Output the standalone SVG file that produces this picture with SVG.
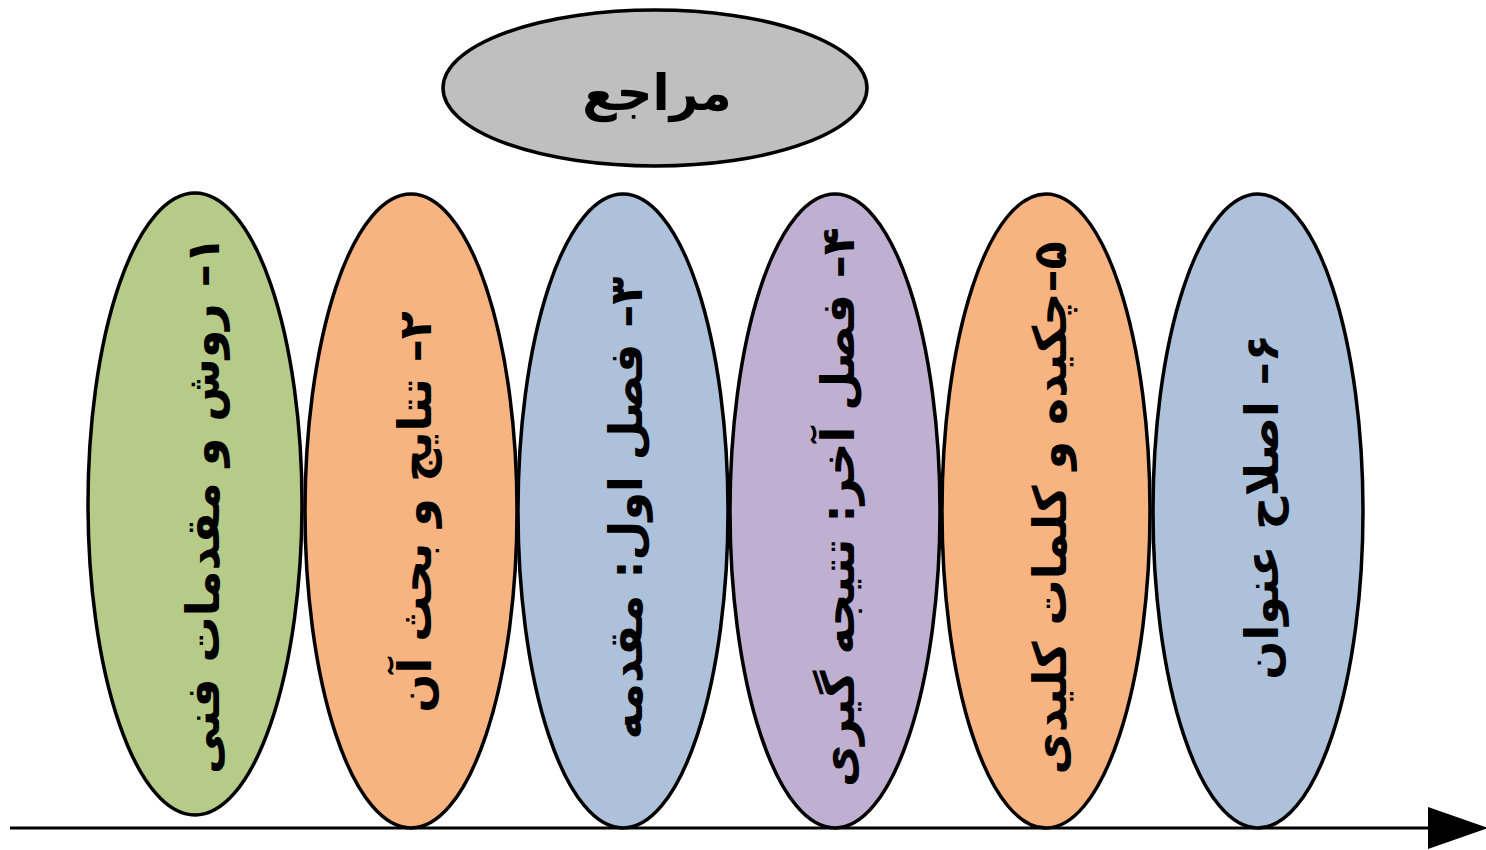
<svg xmlns="http://www.w3.org/2000/svg" width="1486" height="850" viewBox="0 0 1486 850">
<style>
.e{stroke:#000;stroke-width:3.5}
.lbl{font-family:"DejaVu Sans",sans-serif;font-size:46px;font-weight:bold;fill:#000;text-anchor:middle;dominant-baseline:central;direction:rtl;unicode-bidi:embed}
</style>
<defs>
<marker id="ah" viewBox="0 0 20 14" refX="0" refY="7" markerWidth="20" markerHeight="14" markerUnits="strokeWidth" orient="auto">
<path d="M0,0 L20,7 L0,14 Z" fill="#000"/>
</marker>
</defs>
<rect width="1486" height="850" fill="#fff"/>
<g id="connectors">
<line x1="10" y1="828" x2="1428" y2="828" stroke="#000" stroke-width="3" marker-end="url(#ah)"/>
</g>
<g id="node-refs">
<ellipse class="e" cx="655" cy="88" rx="212" ry="78" fill="#bfbfbf"/>
<text class="lbl" x="657" y="93" style="font-size:50px">مراجع</text>
</g>
<g id="node-1">
<ellipse class="e" cx="195" cy="504" rx="107" ry="311" fill="#b6cb87"/>
<text class="lbl" transform="translate(203,505) rotate(-90)">۱– روش و مقدمات فنی</text>
</g>
<g id="node-2">
<ellipse class="e" cx="411" cy="511" rx="106" ry="317" fill="#f7b480"/>
<text class="lbl" transform="translate(415,512) rotate(-90)">۲– تتایج و بحث آن</text>
</g>
<g id="node-3">
<ellipse class="e" cx="623" cy="511" rx="105" ry="317" fill="#adc1db"/>
<text class="lbl" transform="translate(626,508) rotate(-90)">۳– فصل اول: مقدمه</text>
</g>
<g id="node-4">
<ellipse class="e" cx="835" cy="511" rx="105" ry="317" fill="#bfb0d2"/>
<text class="lbl" transform="translate(838,507) rotate(-90)">۴– فصل آخر: تتیجه گیری</text>
</g>
<g id="node-5">
<ellipse class="e" cx="1046" cy="511" rx="104" ry="317" fill="#f7b480"/>
<text class="lbl" transform="translate(1050,508) rotate(-90)">۵–چکیده و کلمات کلیدی</text>
</g>
<g id="node-6">
<ellipse class="e" cx="1258" cy="511" rx="105" ry="317" fill="#adc1db"/>
<text class="lbl" transform="translate(1262,507) rotate(-90)">۶– اصلاح عنوان</text>
</g>
</svg>
